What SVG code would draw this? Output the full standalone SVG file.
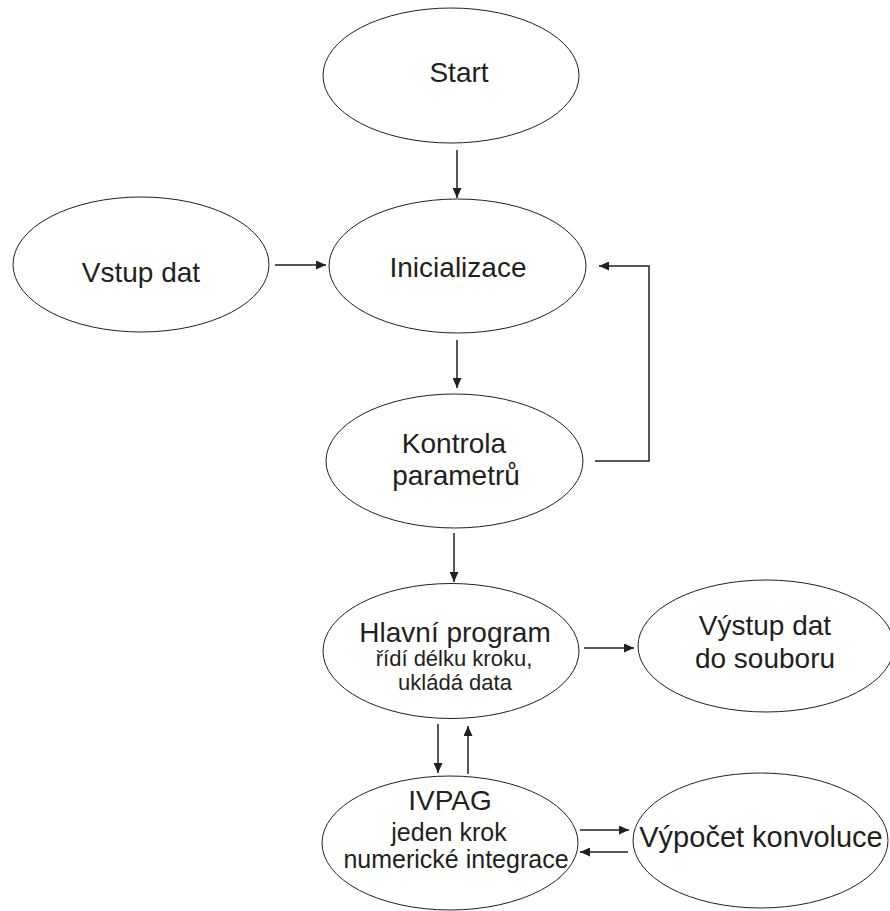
<svg xmlns="http://www.w3.org/2000/svg" width="890" height="911" viewBox="0 0 890 911">
<style>
.n ellipse{fill:#fff;stroke:#231f20;stroke-width:1}
.n text{font-family:"Liberation Sans",Arial,sans-serif;fill:#231f20;text-anchor:middle}
.big{font-size:28px}
.sm{font-size:22px}
.md{font-size:25px}
.c path{fill:none;stroke:#231f20;stroke-width:1.5}
</style>
<defs>
<marker id="ah" markerUnits="userSpaceOnUse" markerWidth="10" markerHeight="9" refX="10" refY="4.5" orient="auto" viewBox="0 0 10 9">
<path d="M0,0 L10,4.5 L0,9 z" fill="#231f20"/>
</marker>
</defs>
<rect width="890" height="911" fill="#fff"/>
<g class="c" id="connectors">
<path d="M457,150 V198" marker-end="url(#ah)"/>
<path d="M275,265 H326" marker-end="url(#ah)"/>
<path d="M457,340 V388" marker-end="url(#ah)"/>
<path d="M595,461 H649 V266 H599" marker-end="url(#ah)"/>
<path d="M454,533 V582" marker-end="url(#ah)"/>
<path d="M584,648 H634" marker-end="url(#ah)"/>
<path d="M438,724 V773" marker-end="url(#ah)"/>
<path d="M468,774 V726" marker-end="url(#ah)"/>
<path d="M580,830 H629" marker-end="url(#ah)"/>
<path d="M628,852 H580" marker-end="url(#ah)"/>
</g>
<g class="n" id="start">
<ellipse cx="451" cy="75.5" rx="128" ry="67.5"/>
<text class="big" x="459" y="82">Start</text>
</g>
<g class="n" id="vstup">
<ellipse cx="141" cy="264.5" rx="128" ry="67.5"/>
<text class="big" x="141" y="282">Vstup dat</text>
</g>
<g class="n" id="init">
<ellipse cx="457.5" cy="266" rx="128.5" ry="67"/>
<text class="big" x="458" y="277">Inicializace</text>
</g>
<g class="n" id="kontrola">
<ellipse cx="454.5" cy="461" rx="128.5" ry="67"/>
<text class="big" x="454" y="453">Kontrola</text>
<text class="big" x="456" y="485">parametrů</text>
</g>
<g class="n" id="hlavni">
<ellipse cx="451" cy="651" rx="128" ry="67.5"/>
<text class="big" x="455" y="642">Hlavní program</text>
<text class="sm" x="454" y="666">řídí délku kroku,</text>
<text class="sm" x="455" y="690">ukládá data</text>
</g>
<g class="n" id="vystup">
<ellipse cx="766" cy="646" rx="128" ry="66"/>
<text class="big" x="765" y="635">Výstup dat</text>
<text class="big" x="765" y="668">do souboru</text>
</g>
<g class="n" id="ivpag">
<ellipse cx="450" cy="843" rx="128" ry="67"/>
<text class="big" x="450" y="810">IVPAG</text>
<text class="md" x="449" y="841">jeden krok</text>
<text class="md" x="456" y="868">numerické integrace</text>
</g>
<g class="n" id="vypocet">
<ellipse cx="760.5" cy="840.5" rx="127.5" ry="67.5"/>
<text x="761" y="847" style="font-size:29px">Výpočet konvoluce</text>
</g>
</svg>
